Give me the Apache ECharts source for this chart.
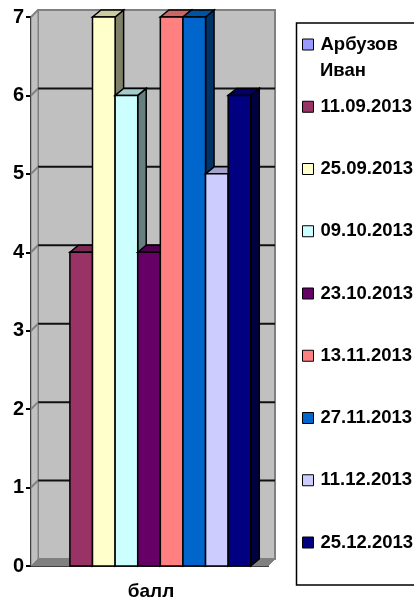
<!DOCTYPE html>
<html>
<head>
<meta charset="utf-8">
<style>
html, body { margin: 0; padding: 0; background: #fff; }
#chart { width: 414px; height: 601px; }
</style>
<script src="https://cdn.jsdelivr.net/npm/echarts@6/dist/echarts.min.js"></script>
</head>
<body>
<div id="chart"></div>
<script>
const categories = ['балл'];
const seriesNames = ['Арбузов Иван', '11.09.2013', '25.09.2013', '09.10.2013', '23.10.2013', '13.11.2013', '27.11.2013', '11.12.2013', '25.12.2013'];
const seriesValues = [0, 4, 7, 6, 4, 7, 7, 5, 6];
const seriesColors = ['#9999ff', '#993366', '#ffffcc', '#ccffff', '#660066', '#ff8080', '#0066cc', '#ccccff', '#000080'];
const yTicks = [0, 1, 2, 3, 4, 5, 6, 7];

const fontFamily = '"Liberation Sans", Arial, sans-serif';
const depthX = 7; // wall depth
const depthY = 7;
const barDepthX = 8.5;

function shade(hex, k) {
    const n = parseInt(hex.slice(1), 16);
    const c = [(n >> 16) & 255, (n >> 8) & 255, n & 255].map(v => Math.round(v * k));
    return 'rgb(' + c.join(',') + ')';
}

// back wall, left wall, floor and the gridlines set back from the axis
function renderWall(params, api) {
    const bottom = api.coord([0, yTicks[0]])[1];
    const top = api.coord([0, yTicks[yTicks.length - 1]])[1];
    const band = api.size([1, 0])[0];
    const left = api.coord([0, 0])[0] - band / 2;
    const right = left + band;
    const edge = { stroke: '#808080', lineWidth: 2 };
    const children = [
        { type: 'polygon', shape: { points: [[left + depthX, top - depthY], [right + depthX, top - depthY], [right + depthX, bottom - depthY], [left + depthX, bottom - depthY]] }, style: { fill: '#c0c0c0', stroke: '#808080', lineWidth: 2 } },
        { type: 'polygon', shape: { points: [[left, top], [left + depthX, top - depthY], [left + depthX, bottom - depthY], [left, bottom]] }, style: { fill: '#c0c0c0', stroke: '#808080', lineWidth: 1 } },
        { type: 'polygon', shape: { points: [[left, bottom], [right, bottom], [right + depthX, bottom - depthY], [left + depthX, bottom - depthY]] }, style: { fill: '#808080', stroke: '#808080', lineWidth: 1 } }
    ];
    yTicks.slice(1, -1).forEach(t => {
        const y = api.coord([0, t])[1];
        children.push({ type: 'line', shape: { x1: left + depthX, y1: y - depthY, x2: right + depthX, y2: y - depthY }, style: { stroke: '#111', lineWidth: 2 } });
    });
    yTicks.slice(1).forEach(t => {
        const y = api.coord([0, t])[1];
        children.push({ type: 'line', shape: { x1: left, y1: y, x2: left + depthX, y2: y - depthY }, style: edge });
    });
    return { type: 'group', children: children };
}

function renderBar(idx) {
    return function (params, api) {
        const value = api.value(1);
        if (!value) return null;
        const band = api.size([1, 0])[0];
        const w = band * 0.0954;
        const x0 = api.coord([0, 0])[0] - band / 2 + band * 0.0687 + idx * w;
        const x1 = x0 + w;
        const yTop = api.coord([0, value])[1];
        const yBot = api.coord([0, 0])[1];
        const color = seriesColors[idx];
        const line = { stroke: '#000', lineWidth: 1.5 };
        return {
            type: 'group',
            children: [
                { type: 'polygon', shape: { points: [[x1, yTop], [x1 + barDepthX, yTop - depthY], [x1 + barDepthX, yBot - depthY], [x1, yBot]] }, style: Object.assign({ fill: shade(color, 0.5) }, line) },
                { type: 'polygon', shape: { points: [[x0, yTop], [x0 + barDepthX, yTop - depthY], [x1 + barDepthX, yTop - depthY], [x1, yTop]] }, style: Object.assign({ fill: shade(color, 0.8) }, line) },
                { type: 'rect', shape: { x: x0, y: yTop, width: w, height: yBot - yTop }, style: Object.assign({ fill: color }, line) }
            ]
        };
    };
}

const series = [{
    type: 'custom',
    name: 'wall',
    silent: true,
    z: 1,
    renderItem: renderWall,
    data: [[0, 0]]
}];
seriesNames.forEach((name, i) => {
    series.push({
        type: 'custom',
        name: name,
        silent: true,
        z: 2,
        itemStyle: { color: seriesColors[i] },
        encode: { x: 0, y: 1 },
        renderItem: renderBar(i),
        data: [[0, seriesValues[i]]]
    });
});

const chart = echarts.init(document.getElementById('chart'), null, { width: 414, height: 601 });
chart.setOption({
    animation: false,
    backgroundColor: '#fff',
    textStyle: { fontFamily: fontFamily },
    grid: { left: 31, top: 17, width: 237, height: 549 },
    xAxis: {
        type: 'category',
        data: categories,
        axisLine: { onZero: false, lineStyle: { color: '#000', width: 2 } },
        axisTick: { length: 5, lineStyle: { color: '#000', width: 2 } },
        axisLabel: { color: '#000', fontWeight: 'bold', fontSize: 19, fontFamily: fontFamily, margin: 16, padding: [0, 0, 0, 3] }
    },
    yAxis: {
        type: 'value',
        min: 0,
        max: 7,
        interval: 1,
        splitLine: { show: false },
        axisLine: { show: true, lineStyle: { color: '#000', width: 2 } },
        axisTick: { show: true, length: 5, lineStyle: { color: '#000', width: 2 } },
        axisLabel: { color: '#000', fontWeight: 'bold', fontSize: 20, fontFamily: fontFamily, margin: 7 }
    },
    legend: {
        orient: 'vertical',
        left: 297,
        top: 29,
        padding: 5,
        data: seriesNames,
        icon: 'rect',
        itemWidth: 11,
        itemHeight: 11,
        itemGap: 41.25,
        selectedMode: false,
        formatter: name => name.split(' ')[0],
        itemStyle: { borderColor: '#000', borderWidth: 1 },
        textStyle: { color: '#000', fontWeight: 'bold', fontSize: 18.5, fontFamily: fontFamily, padding: [0, 0, 0, 2], lineHeight: 21 }
    },
    graphic: [
        { type: 'rect', z: -1, shape: { x: 296.5, y: 23, width: 140, height: 562 }, style: { fill: '#fff', stroke: '#000', lineWidth: 1.5 } },
        { type: 'text', x: 320, y: 61, style: { text: seriesNames[0].split(' ')[1], fill: '#000', font: 'bold 18.5px ' + fontFamily } }
    ],
    series: series
});
</script>
</body>
</html>
